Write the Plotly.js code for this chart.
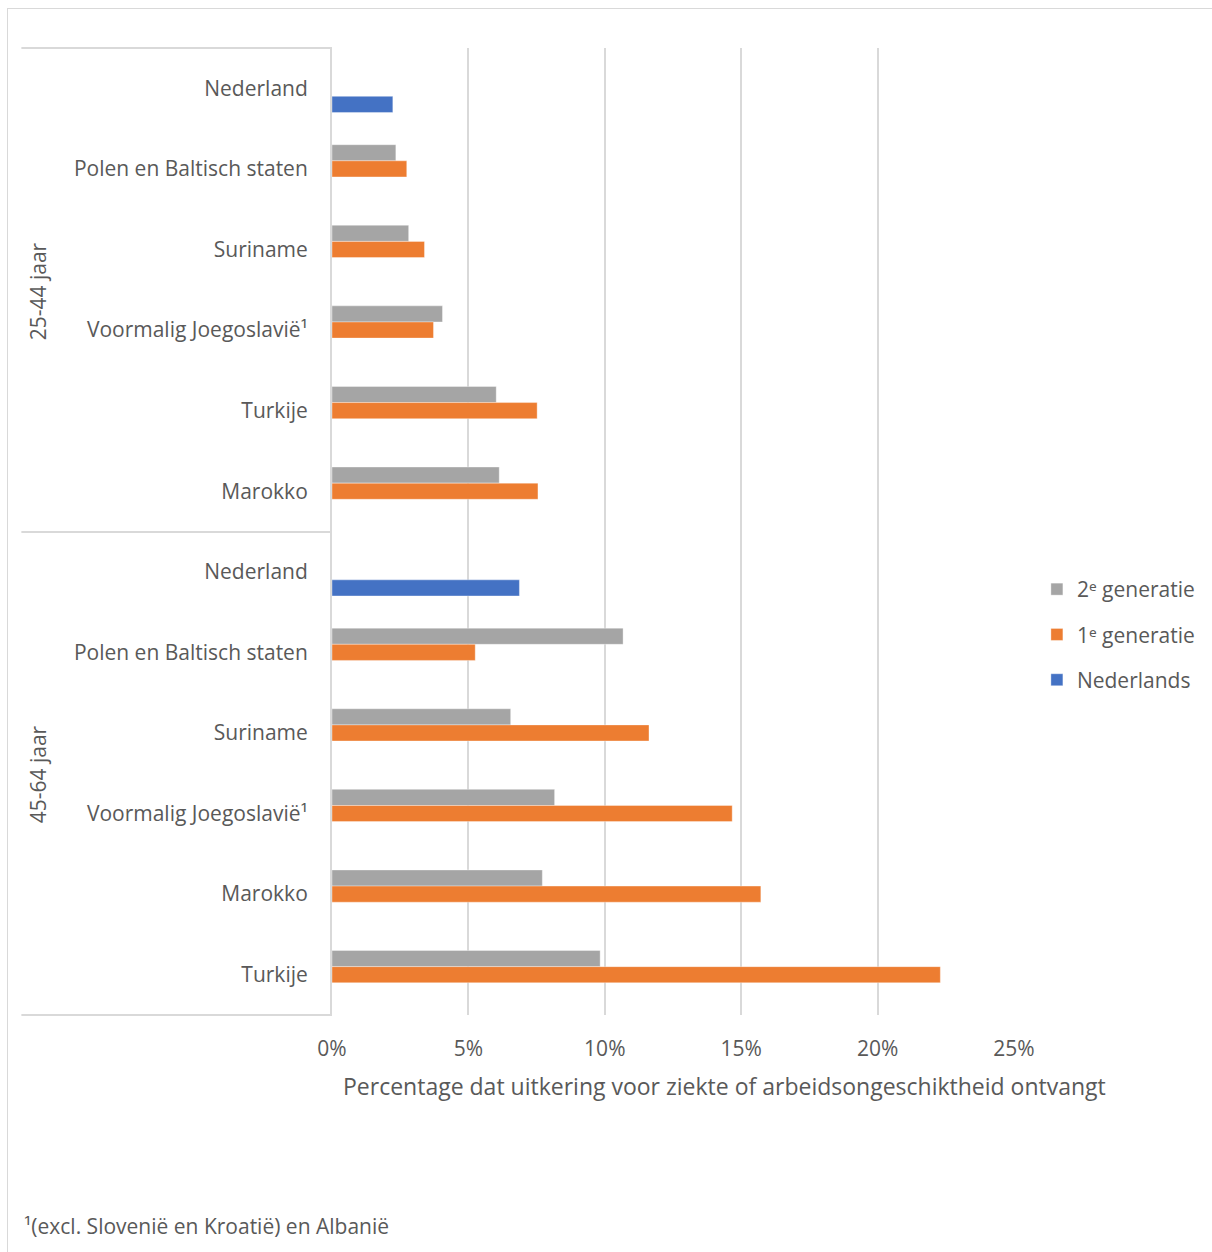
<!DOCTYPE html>
<html>
<head>
<meta charset="utf-8">
<script src="https://cdn.plot.ly/plotly-3.0.1.min.js"></script>
<style>
  html, body { margin: 0; padding: 0; background: #ffffff; }
  #frame { position: absolute; left: 7px; top: 8px; width: 1300px; height: 1300px;
           border-left: 1px solid #d9d9d9; border-top: 1px solid #d9d9d9; pointer-events: none; }
  #chart { position: absolute; left: 0; top: 0; width: 1212px; height: 1252px; }
</style>
</head>
<body>
<div id="chart"></div>
<div id="frame"></div>
<script>
// ---- data ----
const groups = ["25-44 jaar", "45-64 jaar"];
const youngCategories = ["Nederland", "Polen en Baltisch staten", "Suriname", "Voormalig Joegoslavië¹", "Turkije", "Marokko"];
const oldCategories   = ["Nederland", "Polen en Baltisch staten", "Suriname", "Voormalig Joegoslavië¹", "Marokko", "Turkije"];

const young2e = [null, 2.34, 2.81, 4.05, 6.02, 6.13];
const young1e = [null, 2.74, 3.39, 3.72, 7.52, 7.55];
const youngNL = [2.23, null, null, null, null, null];

const old2e = [null, 10.67, 6.55, 8.16, 7.71, 9.83];
const old1e = [null, 5.25, 11.62, 14.67, 15.72, 22.30];
const oldNL = [6.87, null, null, null, null, null];

const seriesNames = ["2ᵉ generatie", "1ᵉ generatie", "Nederlands"];
const xTickVals = [0, 5, 10, 15, 20, 25];
const xTitle = "Percentage dat uitkering voor ziekte of arbeidsongeschiktheid ontvangt";
const footnote = "¹(excl. Slovenië en Kroatië) en Albanië";

// ---- build ----
const keys = [], labels = [];
youngCategories.forEach(c => { keys.push(groups[0] + "|" + c); labels.push(c); });
oldCategories.forEach(c => { keys.push(groups[1] + "|" + c); labels.push(c); });

const v2e = young2e.concat(old2e);
const v1e = young1e.concat(old1e);
const vNL = youngNL.concat(oldNL);

const colors = ["#a5a5a5", "#ed7d31", "#4472c4"];
const vals = [v2e, v1e, vNL];

const traces = vals.map((v, i) => ({
  type: "bar",
  orientation: "h",
  name: seriesNames[i],
  y: keys,
  x: v,
  legendgroup: "g" + i,
  marker: { color: colors[i], line: { color: "rgba(255,255,255,0.6)", width: 0.6 } },
  hoverinfo: "x+name"
}));

// plot area in pixels
const W = 1212, H = 1252;
const L = 332, R = 1017, T = 48, B = 1015;
const px = x => (x - L) / (R - L);
const py = y => (B - y) / (B - T);

const textColor = "#595959";
const font = "'Open Sans', 'Noto Sans', sans-serif";

const lineCol = "#d9d9d9";
const shapes = [
  { type: "line", xref: "paper", yref: "paper", x0: px(20), x1: 0, y0: py(48), y1: py(48), line: { color: lineCol, width: 2 } },
  { type: "line", xref: "paper", yref: "paper", x0: px(20), x1: 0, y0: py(532), y1: py(532), line: { color: lineCol, width: 2 } },
  { type: "line", xref: "paper", yref: "paper", x0: px(20), x1: 0, y0: py(1015), y1: py(1015), line: { color: lineCol, width: 2 } }
];

const annotations = [
  { xref: "paper", yref: "paper", x: px(37), y: py(291), text: groups[0], textangle: -90, showarrow: false,
    font: { family: font, size: 21, color: textColor }, xanchor: "center", yanchor: "middle" },
  { xref: "paper", yref: "paper", x: px(37), y: py(774), text: groups[1], textangle: -90, showarrow: false,
    font: { family: font, size: 21, color: textColor }, xanchor: "center", yanchor: "middle" },
  { xref: "paper", yref: "paper", x: px(726), y: py(1086), text: xTitle, showarrow: false,
    font: { family: font, size: 23, color: textColor }, xanchor: "center", yanchor: "middle" },
  { xref: "paper", yref: "paper", x: px(21), y: py(1226), text: footnote, showarrow: false,
    font: { family: font, size: 21, color: textColor }, xanchor: "left", yanchor: "middle" }
];

const layout = {
  width: W, height: H,
  margin: { l: L, r: W - R, t: T, b: H - B, pad: 0 },
  paper_bgcolor: "#ffffff",
  plot_bgcolor: "#ffffff",
  barmode: "group",
  bargap: 0.4,
  bargroupgap: 0,
  showlegend: true,
  legend: {
    x: px(1040), y: py(569), xanchor: "left", yanchor: "top",
    traceorder: "grouped", tracegroupgap: 15,
    font: { family: font, size: 21, color: textColor },
    bgcolor: "rgba(0,0,0,0)", itemwidth: 30
  },
  xaxis: {
    range: [0, 25],
    tickvals: xTickVals,
    ticktext: xTickVals.map(v => v + "%"),
    showgrid: true, gridcolor: lineCol, gridwidth: 2,
    zeroline: false, showline: false,
    ticks: "outside", ticklen: 15, tickcolor: "rgba(0,0,0,0)",
    tickfont: { family: font, size: 21, color: textColor },
    fixedrange: true
  },
  yaxis: {
    type: "category",
    categoryorder: "array", categoryarray: keys,
    tickvals: keys, ticktext: labels,
    autorange: "reversed",
    showgrid: false, zeroline: false,
    showline: true, linecolor: lineCol, linewidth: 2,
    ticks: "outside", ticklen: 18, tickcolor: "rgba(0,0,0,0)",
    tickfont: { family: font, size: 21, color: textColor },
    fixedrange: true
  },
  shapes: shapes,
  annotations: annotations
};

Plotly.newPlot("chart", traces, layout, { displayModeBar: false, staticPlot: true });
</script>
</body>
</html>
